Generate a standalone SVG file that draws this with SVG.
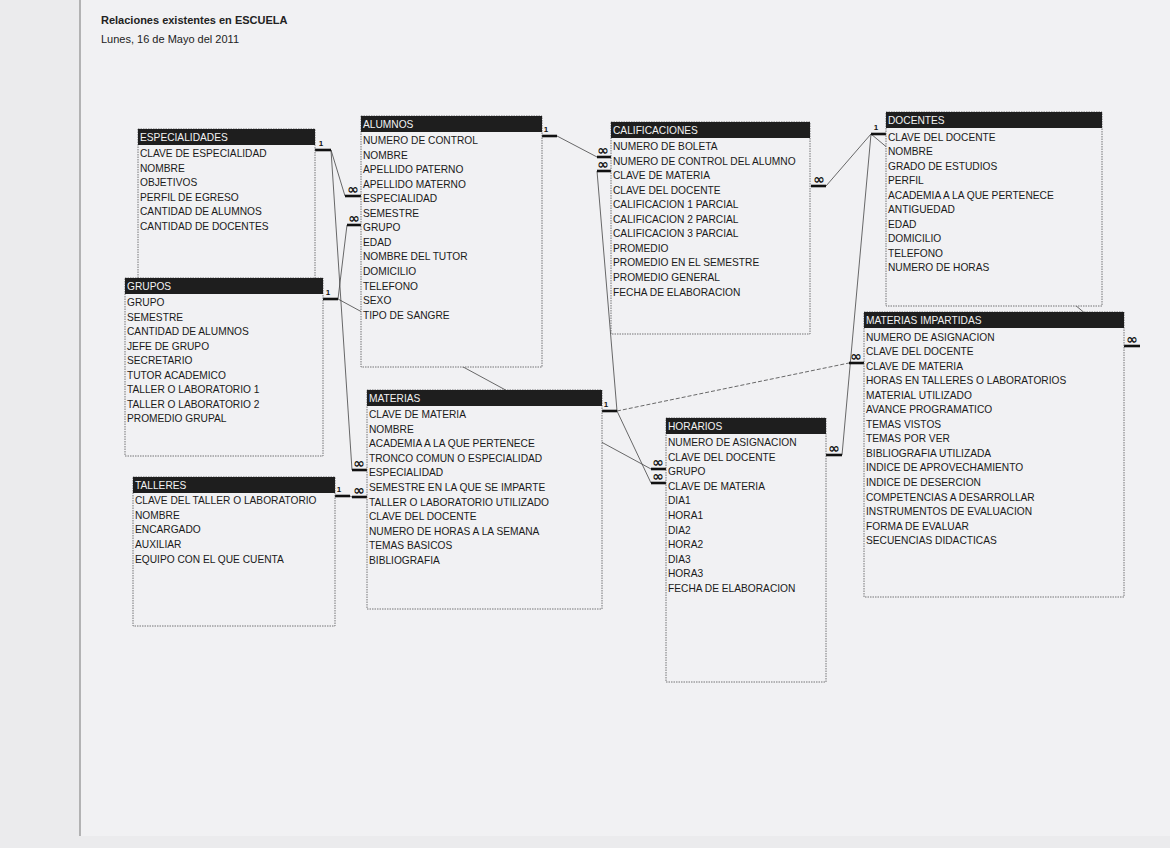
<svg xmlns="http://www.w3.org/2000/svg" width="1170" height="848" viewBox="0 0 1170 848">
<style>
.bg{fill:#ebebed}
.page{fill:#f1f1f3}
.box{fill:#f1f1f3;stroke:#555;stroke-width:0.8;stroke-dasharray:1.5 1}
.hdr{fill:#1e1e1e}
.ht{fill:#f2f2f2;font-family:"Liberation Sans",Arial,sans-serif;font-size:10.2px}
.ft{fill:#1a1a1a;font-family:"Liberation Sans",Arial,sans-serif;font-size:10.2px}
.con{stroke:#444;stroke-width:0.8;fill:none}
.dash{stroke-dasharray:4 2}
.bar{stroke:#111;stroke-width:2.6}
.one{fill:#111;font-family:"Liberation Sans",Arial,sans-serif;font-size:8px;font-weight:bold;text-anchor:middle}
.many{fill:#111;font-family:"DejaVu Sans",sans-serif;font-size:14px;font-weight:bold;text-anchor:middle}
.title{fill:#222;font-family:"Liberation Sans",Arial,sans-serif;font-size:11px}
</style>
<rect class="bg" x="0" y="0" width="1170" height="848"/>
<rect class="page" x="80" y="0" width="1090" height="836"/>
<line x1="80" y1="0" x2="80" y2="836" stroke="#777" stroke-width="1"/>
<g id="title">
<text class="title" x="101" y="24" font-weight="bold">Relaciones existentes en ESCUELA</text>
<text class="title" x="101" y="43">Lunes, 16 de Mayo del 2011</text>
</g>
<g id="connectors">
<line class="con" x1="331" y1="150" x2="345" y2="196"/>
<line class="con" x1="331" y1="150" x2="352" y2="470"/>
<line class="con" x1="338" y1="299" x2="347" y2="225"/>
<line class="con" x1="338" y1="299" x2="651" y2="469"/>
<line class="con" x1="350" y1="496" x2="352" y2="497"/>
<line class="con" x1="557" y1="136" x2="597" y2="157"/>
<line class="con" x1="597" y1="171" x2="617" y2="411"/>
<line class="con dash" x1="617" y1="411" x2="849" y2="363"/>
<line class="con" x1="617" y1="411" x2="651" y2="483"/>
<line class="con" x1="871" y1="134" x2="826" y2="186"/>
<line class="con" x1="871" y1="134" x2="842" y2="455"/>
<line class="con" x1="871" y1="134" x2="1124" y2="346"/>
<line class="bar" x1="315" y1="150" x2="331" y2="150"/><text class="one" x="321" y="146">1</text>
<line class="bar" x1="345" y1="196" x2="361" y2="196"/><text class="many" x="353" y="194">∞</text>
<line class="bar" x1="347" y1="225" x2="361" y2="225"/><text class="many" x="354" y="223">∞</text>
<line class="bar" x1="323" y1="299" x2="338" y2="299"/><text class="one" x="328" y="295">1</text>
<line class="bar" x1="352" y1="470" x2="367" y2="470"/><text class="many" x="359" y="468">∞</text>
<line class="bar" x1="335" y1="496" x2="350" y2="496"/><text class="one" x="339" y="492">1</text>
<line class="bar" x1="352" y1="497" x2="367" y2="497"/><text class="many" x="359" y="495">∞</text>
<line class="bar" x1="542" y1="136" x2="557" y2="136"/><text class="one" x="546" y="132">1</text>
<line class="bar" x1="597" y1="157" x2="611" y2="157"/><text class="many" x="603" y="155">∞</text>
<line class="bar" x1="597" y1="171" x2="611" y2="171"/><text class="many" x="603" y="169">∞</text>
<line class="bar" x1="602" y1="411" x2="617" y2="411"/><text class="one" x="606" y="407">1</text>
<line class="bar" x1="651" y1="469" x2="666" y2="469"/><text class="many" x="658" y="467">∞</text>
<line class="bar" x1="651" y1="483" x2="666" y2="483"/><text class="many" x="658" y="481">∞</text>
<line class="bar" x1="849" y1="363" x2="864" y2="363"/><text class="many" x="856" y="361">∞</text>
<line class="bar" x1="871" y1="134" x2="886" y2="134"/><text class="one" x="876" y="130">1</text>
<line class="bar" x1="811" y1="186" x2="826" y2="186"/><text class="many" x="819" y="184">∞</text>
<line class="bar" x1="826" y1="455" x2="842" y2="455"/><text class="many" x="834" y="453">∞</text>
<line class="bar" x1="1124" y1="346" x2="1140" y2="346"/><text class="many" x="1132" y="344">∞</text>
</g>
<g id="especialidades" transform="translate(138,129)">
<rect class="box" x="0" y="0" width="177" height="160"/>
<rect class="hdr" x="0" y="0" width="177" height="16"/>
<text class="ht" x="2" y="12">ESPECIALIDADES</text>
<text class="ft" x="2" y="28">CLAVE DE ESPECIALIDAD</text>
<text class="ft" x="2" y="42.5">NOMBRE</text>
<text class="ft" x="2" y="57.1">OBJETIVOS</text>
<text class="ft" x="2" y="71.6">PERFIL DE EGRESO</text>
<text class="ft" x="2" y="86.2">CANTIDAD DE ALUMNOS</text>
<text class="ft" x="2" y="100.7">CANTIDAD DE DOCENTES</text>
</g>
<g id="alumnos" transform="translate(361,116)">
<rect class="box" x="0" y="0" width="181" height="251"/>
<rect class="hdr" x="0" y="0" width="181" height="16"/>
<text class="ht" x="2" y="12">ALUMNOS</text>
<text class="ft" x="2" y="28">NUMERO DE CONTROL</text>
<text class="ft" x="2" y="42.5">NOMBRE</text>
<text class="ft" x="2" y="57.1">APELLIDO PATERNO</text>
<text class="ft" x="2" y="71.6">APELLIDO MATERNO</text>
<text class="ft" x="2" y="86.2">ESPECIALIDAD</text>
<text class="ft" x="2" y="100.7">SEMESTRE</text>
<text class="ft" x="2" y="115.3">GRUPO</text>
<text class="ft" x="2" y="129.8">EDAD</text>
<text class="ft" x="2" y="144.4">NOMBRE DEL TUTOR</text>
<text class="ft" x="2" y="158.9">DOMICILIO</text>
<text class="ft" x="2" y="173.5">TELEFONO</text>
<text class="ft" x="2" y="188">SEXO</text>
<text class="ft" x="2" y="202.6">TIPO DE SANGRE</text>
</g>
<g id="calificaciones" transform="translate(611,122)">
<rect class="box" x="0" y="0" width="199" height="212"/>
<rect class="hdr" x="0" y="0" width="199" height="16"/>
<text class="ht" x="2" y="12">CALIFICACIONES</text>
<text class="ft" x="2" y="28">NUMERO DE BOLETA</text>
<text class="ft" x="2" y="42.5">NUMERO DE CONTROL DEL ALUMNO</text>
<text class="ft" x="2" y="57.1">CLAVE DE MATERIA</text>
<text class="ft" x="2" y="71.6">CLAVE DEL DOCENTE</text>
<text class="ft" x="2" y="86.2">CALIFICACION 1 PARCIAL</text>
<text class="ft" x="2" y="100.7">CALIFICACION 2 PARCIAL</text>
<text class="ft" x="2" y="115.3">CALIFICACION 3 PARCIAL</text>
<text class="ft" x="2" y="129.8">PROMEDIO</text>
<text class="ft" x="2" y="144.4">PROMEDIO EN EL SEMESTRE</text>
<text class="ft" x="2" y="158.9">PROMEDIO GENERAL</text>
<text class="ft" x="2" y="173.5">FECHA DE ELABORACION</text>
</g>
<g id="docentes" transform="translate(886,112)">
<rect class="box" x="0" y="0" width="216" height="194"/>
<rect class="hdr" x="0" y="0" width="216" height="16"/>
<text class="ht" x="2" y="12">DOCENTES</text>
<text class="ft" x="2" y="28.5">CLAVE DEL DOCENTE</text>
<text class="ft" x="2" y="43">NOMBRE</text>
<text class="ft" x="2" y="57.6">GRADO DE ESTUDIOS</text>
<text class="ft" x="2" y="72.1">PERFIL</text>
<text class="ft" x="2" y="86.7">ACADEMIA A LA QUE PERTENECE</text>
<text class="ft" x="2" y="101.2">ANTIGUEDAD</text>
<text class="ft" x="2" y="115.8">EDAD</text>
<text class="ft" x="2" y="130.3">DOMICILIO</text>
<text class="ft" x="2" y="144.9">TELEFONO</text>
<text class="ft" x="2" y="159.4">NUMERO DE HORAS</text>
</g>
<g id="grupos" transform="translate(125,278)">
<rect class="box" x="0" y="0" width="198" height="178"/>
<rect class="hdr" x="0" y="0" width="198" height="16"/>
<text class="ht" x="2" y="12">GRUPOS</text>
<text class="ft" x="2" y="28">GRUPO</text>
<text class="ft" x="2" y="42.5">SEMESTRE</text>
<text class="ft" x="2" y="57.1">CANTIDAD DE ALUMNOS</text>
<text class="ft" x="2" y="71.6">JEFE DE GRUPO</text>
<text class="ft" x="2" y="86.2">SECRETARIO</text>
<text class="ft" x="2" y="100.7">TUTOR ACADEMICO</text>
<text class="ft" x="2" y="115.3">TALLER O LABORATORIO 1</text>
<text class="ft" x="2" y="129.8">TALLER O LABORATORIO 2</text>
<text class="ft" x="2" y="144.4">PROMEDIO GRUPAL</text>
</g>
<g id="materias_impartidas" transform="translate(864,312)">
<rect class="box" x="0" y="0" width="260" height="285"/>
<rect class="hdr" x="0" y="0" width="260" height="16"/>
<text class="ht" x="2" y="12">MATERIAS IMPARTIDAS</text>
<text class="ft" x="2" y="28.5">NUMERO DE ASIGNACION</text>
<text class="ft" x="2" y="43">CLAVE DEL DOCENTE</text>
<text class="ft" x="2" y="57.6">CLAVE DE MATERIA</text>
<text class="ft" x="2" y="72.1">HORAS EN TALLERES O LABORATORIOS</text>
<text class="ft" x="2" y="86.7">MATERIAL UTILIZADO</text>
<text class="ft" x="2" y="101.2">AVANCE PROGRAMATICO</text>
<text class="ft" x="2" y="115.8">TEMAS VISTOS</text>
<text class="ft" x="2" y="130.3">TEMAS POR VER</text>
<text class="ft" x="2" y="144.9">BIBLIOGRAFIA UTILIZADA</text>
<text class="ft" x="2" y="159.4">INDICE DE APROVECHAMIENTO</text>
<text class="ft" x="2" y="174">INDICE DE DESERCION</text>
<text class="ft" x="2" y="188.5">COMPETENCIAS A DESARROLLAR</text>
<text class="ft" x="2" y="203.1">INSTRUMENTOS DE EVALUACION</text>
<text class="ft" x="2" y="217.6">FORMA DE EVALUAR</text>
<text class="ft" x="2" y="232.2">SECUENCIAS DIDACTICAS</text>
</g>
<g id="materias" transform="translate(367,390)">
<rect class="box" x="0" y="0" width="235" height="219"/>
<rect class="hdr" x="0" y="0" width="235" height="16"/>
<text class="ht" x="2" y="12">MATERIAS</text>
<text class="ft" x="2" y="28">CLAVE DE MATERIA</text>
<text class="ft" x="2" y="42.6">NOMBRE</text>
<text class="ft" x="2" y="57.2">ACADEMIA A LA QUE PERTENECE</text>
<text class="ft" x="2" y="71.8">TRONCO COMUN O ESPECIALIDAD</text>
<text class="ft" x="2" y="86.4">ESPECIALIDAD</text>
<text class="ft" x="2" y="101">SEMESTRE EN LA QUE SE IMPARTE</text>
<text class="ft" x="2" y="115.6">TALLER O LABORATORIO UTILIZADO</text>
<text class="ft" x="2" y="130.2">CLAVE DEL DOCENTE</text>
<text class="ft" x="2" y="144.8">NUMERO DE HORAS A LA SEMANA</text>
<text class="ft" x="2" y="159.4">TEMAS BASICOS</text>
<text class="ft" x="2" y="174">BIBLIOGRAFIA</text>
</g>
<g id="horarios" transform="translate(666,418)">
<rect class="box" x="0" y="0" width="160" height="264"/>
<rect class="hdr" x="0" y="0" width="160" height="16"/>
<text class="ht" x="2" y="12">HORARIOS</text>
<text class="ft" x="2" y="28">NUMERO DE ASIGNACION</text>
<text class="ft" x="2" y="42.6">CLAVE DEL DOCENTE</text>
<text class="ft" x="2" y="57.2">GRUPO</text>
<text class="ft" x="2" y="71.8">CLAVE DE MATERIA</text>
<text class="ft" x="2" y="86.4">DIA1</text>
<text class="ft" x="2" y="101">HORA1</text>
<text class="ft" x="2" y="115.6">DIA2</text>
<text class="ft" x="2" y="130.2">HORA2</text>
<text class="ft" x="2" y="144.8">DIA3</text>
<text class="ft" x="2" y="159.4">HORA3</text>
<text class="ft" x="2" y="174">FECHA DE ELABORACION</text>
</g>
<g id="talleres" transform="translate(133,477)">
<rect class="box" x="0" y="0" width="202" height="149"/>
<rect class="hdr" x="0" y="0" width="202" height="16"/>
<text class="ht" x="2" y="12">TALLERES</text>
<text class="ft" x="2" y="27">CLAVE DEL TALLER O LABORATORIO</text>
<text class="ft" x="2" y="41.7">NOMBRE</text>
<text class="ft" x="2" y="56.4">ENCARGADO</text>
<text class="ft" x="2" y="71.1">AUXILIAR</text>
<text class="ft" x="2" y="85.8">EQUIPO CON EL QUE CUENTA</text>
</g>
</svg>
